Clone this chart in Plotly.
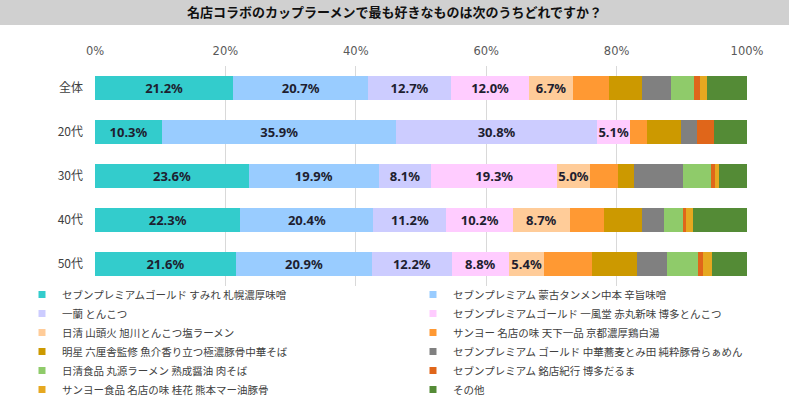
import plotly.graph_objects as go

categories = ["全体", "20代", "30代", "40代", "50代"]

series_names = [
    "セブンプレミアムゴールド すみれ 札幌濃厚味噌",
    "セブンプレミアム 蒙古タンメン中本 辛旨味噌",
    "一蘭 とんこつ",
    "セブンプレミアムゴールド 一風堂 赤丸新味 博多とんこつ",
    "日清 山頭火 旭川とんこつ塩ラーメン",
    "サンヨー 名店の味 天下一品 京都濃厚鶏白湯",
    "明星 六厘舎監修 魚介香り立つ極濃豚骨中華そば",
    "セブンプレミアム ゴールド 中華蕎麦とみ田 純粋豚骨らぁめん",
    "日清食品 丸源ラーメン 熟成醤油 肉そば",
    "セブンプレミアム 銘店紀行 博多だるま",
    "サンヨー食品 名店の味 桂花 熊本マー油豚骨",
    "その他",
]

s1 = [21.2, 10.3, 23.6, 22.3, 21.6]
s2 = [20.7, 35.9, 19.9, 20.4, 20.9]
s3 = [12.7, 30.8, 8.1, 11.2, 12.2]
s4 = [12.0, 5.1, 19.3, 10.2, 8.8]
s5 = [6.7, 0.0, 5.0, 8.7, 5.4]
s6 = [5.6, 2.6, 4.3, 5.3, 7.4]
s7 = [5.0, 5.1, 2.5, 5.8, 6.8]
s8 = [4.5, 2.6, 7.5, 3.4, 4.7]
s9 = [3.5, 0.0, 4.3, 2.9, 4.7]
s10 = [0.9, 2.6, 0.6, 0.5, 0.7]
s11 = [1.1, 0.0, 0.6, 1.0, 1.4]
s12 = [6.1, 5.1, 4.3, 8.3, 5.4]
series_values = [s1, s2, s3, s4, s5, s6, s7, s8, s9, s10, s11, s12]
labelled = [True, True, True, True, True] + [False] * 7

colors = ["#33CCCC", "#99CCFF", "#CCCCFF", "#FFCCFF", "#FFCC99", "#FF9933",
          "#CC9900", "#808080", "#8FCB6A", "#E0661A", "#E6A820", "#548B36"]

tick_vals = [0, 20, 40, 60, 80, 100]
tick_text = ["0%", "20%", "40%", "60%", "80%", "100%"]

JP = "Noto Sans CJK JP"
W, H = 789, 397
ML, MR, MT, MB = 95, 42, 66, 111
PW, PH = W - ML - MR, H - MT - MB

fig = go.Figure()
for i, (name, vals) in enumerate(zip(series_names, series_values)):
    txt = [f"{v:.1f}%" if (labelled[i] and v > 0) else "" for v in vals]
    fig.add_trace(go.Bar(
        y=categories, x=vals, orientation="h", name=name,
        marker=dict(color=colors[i], line=dict(width=0)),
        text=txt, textposition="inside", insidetextanchor="middle",
        textangle=0, constraintext="none",
        textfont=dict(family="Noto Sans", size=13, color="#1E1E30", weight="bold"),
        showlegend=False, hoverinfo="skip",
    ))

# legend entries (small square symbols), two columns
for i, name in enumerate(series_names):
    fig.add_trace(go.Scatter(
        x=[None], y=[None], mode="markers", name=name,
        marker=dict(symbol="square", size=7, color=colors[i]),
        legend="legend" if i % 2 == 0 else "legend2",
        hoverinfo="skip",
    ))

legend_common = dict(
    orientation="v", xref="container", yref="container", traceorder="normal",
    xanchor="left", yanchor="top", y=1 - 280 / H, bgcolor="rgba(0,0,0,0)",
    font=dict(family=JP, size=10.5, color="#404040"),
    tracegroupgap=0, itemclick=False, itemdoubleclick=False,
)

fig.update_layout(
    width=W, height=H,
    margin=dict(l=ML, r=MR, t=MT, b=MB, autoexpand=False),
    paper_bgcolor="white", plot_bgcolor="white",
    barmode="stack", bargap=0.45,
    title=dict(text="名店コラボのカップラーメンで最も好きなものは次のうちどれですか？",
               x=0.5, xanchor="center", y=1 - 12.5 / H, yanchor="middle",
               yref="container",
               font=dict(family=JP, size=13, color="#111111", weight="bold")),
    xaxis=dict(side="top", range=[0, 100], tickvals=tick_vals, ticktext=tick_text,
               showgrid=True, gridcolor="#D9D9D9", gridwidth=1, zeroline=False,
               showline=False, ticks="", ticklabelstandoff=8,
               tickfont=dict(family="DejaVu Sans", size=11.5, color="#595959"),
               fixedrange=True),
    yaxis=dict(type="category", categoryorder="array", categoryarray=categories,
               autorange="reversed", showgrid=False, zeroline=False, showline=False,
               ticks="", ticklabelstandoff=11,
               tickfont=dict(family=JP, size=12, color="#404040"), fixedrange=True),
    legend=dict(x=22 / W, **legend_common),
    legend2=dict(x=413 / W, **legend_common),
    shapes=[dict(type="rect", xref="paper", yref="paper",
                 x0=-ML / PW, x1=1 + MR / PW, y0=(PH + MT - 25) / PH, y1=(PH + MT) / PH,
                 fillcolor="#D0D0D0", line=dict(width=0), layer="below")],
)

fig.write_html("out.html", config={"displayModeBar": False},
               post_script="document.body.style.margin='0';")
